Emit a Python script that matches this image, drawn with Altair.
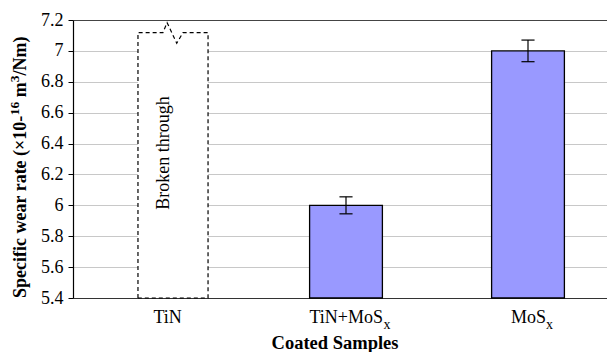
import altair as alt
import pandas as pd

# ---- data ----
categories = ["TiN", "TiN+MoS", "MoS"]
subscripts = ["", "x", "x"]
wear_rate = [None, 6.0, 7.0]          # TiN: coating broken through (no value)
wear_err = [None, 0.055, 0.07]
broken_top = 7.118
y_ticks = [5.4, 5.6, 5.8, 6.0, 6.2, 6.4, 6.6, 6.8, 7.0, 7.2]
# outline of the dashed "broken through" box (offsets from the TiN position, y values)
outline_dx = [-0.143, -0.143, -0.006, 0.017, 0.070, 0.104, 0.242, 0.242, -0.143]
outline_y = [5.4, broken_top, broken_top, 7.183, 7.049, broken_top, broken_top, 5.4, 5.4]

FONT = "Liberation Serif"
FS = 18
W, H = 534, 278
PX_PER_CAT = 182.0
BAR_HALF = 0.2
CAP_HALF = 0.036

# Times / Liberation Serif advance widths (em)
REG = {"T": .611, "i": .278, "N": .722, "+": .564, "M": .889, "o": .5, "S": .556, "x": .5}
BOLD = {"S": .556, "p": .556, "e": .444, "c": .444, "i": .278, "f": .333, " ": .25,
        "w": .722, "a": .5, "r": .444, "t": .333, "(": .333, "×": .570, "1": .5,
        "0": .5, "-": .333, "6": .5, "m": .833, "3": .5, "/": .278, "N": .722, ")": .333}


def text_width(s, metrics, size):
    return sum(metrics.get(ch, 0.5) for ch in s) * size


rows = []
for i, (c, v, e) in enumerate(zip(categories, wear_rate, wear_err)):
    rows.append({"cat": c, "pos": i, "value": v, "err": e})
df = pd.DataFrame(rows)
bars = df[df["value"].notna()].copy()
bars["x1"] = bars["pos"] - BAR_HALF
bars["x2"] = bars["pos"] + BAR_HALF
bars["base"] = y_ticks[0]
bars["lo"] = bars["value"] - bars["err"]
bars["hi"] = bars["value"] + bars["err"]
bars["c1"] = bars["pos"] - CAP_HALF
bars["c2"] = bars["pos"] + CAP_HALF

tin_pos = categories.index("TiN")
outline = pd.DataFrame({"i": list(range(len(outline_dx))),
                        "x": [tin_pos + d for d in outline_dx],
                        "y": outline_y})
box = pd.DataFrame({"x1": [tin_pos + min(outline_dx)], "x2": [tin_pos + max(outline_dx)],
                    "y1": [y_ticks[0]], "y2": [broken_top]})

xs = alt.Scale(domain=[-0.5, -0.5 + W / PX_PER_CAT], nice=False, zero=False)
ys = alt.Scale(domain=[y_ticks[0], y_ticks[-1]], nice=False, zero=False)
xa = alt.Axis(labels=False, ticks=False, grid=False, title=None,
              domainColor="#333333", domainWidth=1.2)
ya = alt.Axis(values=y_ticks, format=".2~f", title=None, labelFont=FONT,
              labelFontSize=FS, labelColor="black", tickColor="black", tickSize=5,
              labelPadding=5, domainColor="black", domainWidth=1.2,
              gridColor=alt.condition("datum.value >= 7.19", alt.value("#444444"),
                                      alt.value("#c8c8c8")),
              gridWidth=1.2)


def X(f):
    return alt.X(f, type="quantitative", scale=xs, axis=xa)


def Y(f):
    return alt.Y(f, type="quantitative", scale=ys, axis=ya)


layers = []
layers.append(alt.Chart(bars).mark_bar(color="#9999ff", stroke="black", strokeWidth=1.3)
              .encode(x=X("x1"), x2="x2", y=Y("value"), y2="base"))
layers.append(alt.Chart(box).mark_rect(color="white")
              .encode(x=X("x1"), x2="x2", y=Y("y1"), y2="y2"))
layers.append(alt.Chart(outline).mark_line(color="black", strokeWidth=1.2, strokeDash=[4, 3])
              .encode(x=X("x"), y=Y("y"), order="i:Q"))
layers.append(alt.Chart(pd.DataFrame({"x": [tin_pos], "t": ["Broken through"]}))
              .mark_text(angle=270, align="center", baseline="middle", font=FONT,
                         fontSize=FS, color="black")
              .encode(x=X("x"), y=alt.value(133), text="t:N"))
# error bars
layers.append(alt.Chart(bars).mark_rule(color="black", strokeWidth=1.2)
              .encode(x=X("pos"), y=Y("lo"), y2="hi"))
layers.append(alt.Chart(bars).mark_rule(color="black", strokeWidth=1.2)
              .encode(x=X("c1"), x2="c2", y=Y("hi")))
layers.append(alt.Chart(bars).mark_rule(color="black", strokeWidth=1.2)
              .encode(x=X("c1"), x2="c2", y=Y("lo")))

# category labels with subscripts
SUB_FS = 14
for i, (c, s) in enumerate(zip(categories, subscripts)):
    wm = text_width(c, REG, FS)
    wsub = text_width(s, REG, SUB_FS) if s else 0
    start = 4 - (wm + wsub) / 2
    d = pd.DataFrame({"x": [i], "t": [c], "s": [s]})
    layers.append(alt.Chart(d).mark_text(align="left", baseline="alphabetic", font=FONT,
                                         fontSize=FS, color="black", dx=start)
                  .encode(x=X("x"), y=alt.value(H + 25), text="t:N"))
    if s:
        layers.append(alt.Chart(d).mark_text(align="left", baseline="alphabetic", font=FONT,
                                             fontSize=SUB_FS, color="black", dx=start + wm, dy=6)
                      .encode(x=X("x"), y=alt.value(H + 25), text="s:N"))

# x title
layers.append(alt.Chart(pd.DataFrame({"t": ["Coated Samples"]}))
              .mark_text(align="center", baseline="alphabetic", font=FONT, fontSize=18.5,
                         fontWeight="bold", color="black")
              .encode(x=alt.value(262), y=alt.value(H + 51), text="t:N"))

# y title with superscripts (rotated, built from segments; (text, size, raise, gap before))
SUP_FS = 13.5
segments = [("Specific wear rate (×10-", FS, 0, 0), ("16", SUP_FS, -6.5, 0),
            ("m", FS, 0, BOLD[" "] * FS), ("3", SUP_FS, -6.5, 0), ("/Nm)", FS, 0, 0)]
offset = 0.0
for txt, size, dy, gap in segments:
    offset += gap
    layers.append(alt.Chart(pd.DataFrame({"t": [txt]}))
                  .mark_text(angle=270, align="left", baseline="middle", font=FONT,
                             fontSize=size, fontWeight="bold", color="black",
                             dx=offset, dy=dy)
                  .encode(x=alt.value(-52), y=alt.value(278), text="t:N"))
    offset += text_width(txt, BOLD, size)

chart = alt.layer(*layers).properties(
    width=W, height=H,
    padding={"left": 65, "top": 12, "right": 0, "bottom": 54},
    autosize=alt.AutoSizeParams(type="none"),
).configure_view(stroke=None).configure(background="white")

chart.save("out.html", embed_options={"renderer": "svg", "actions": False})
